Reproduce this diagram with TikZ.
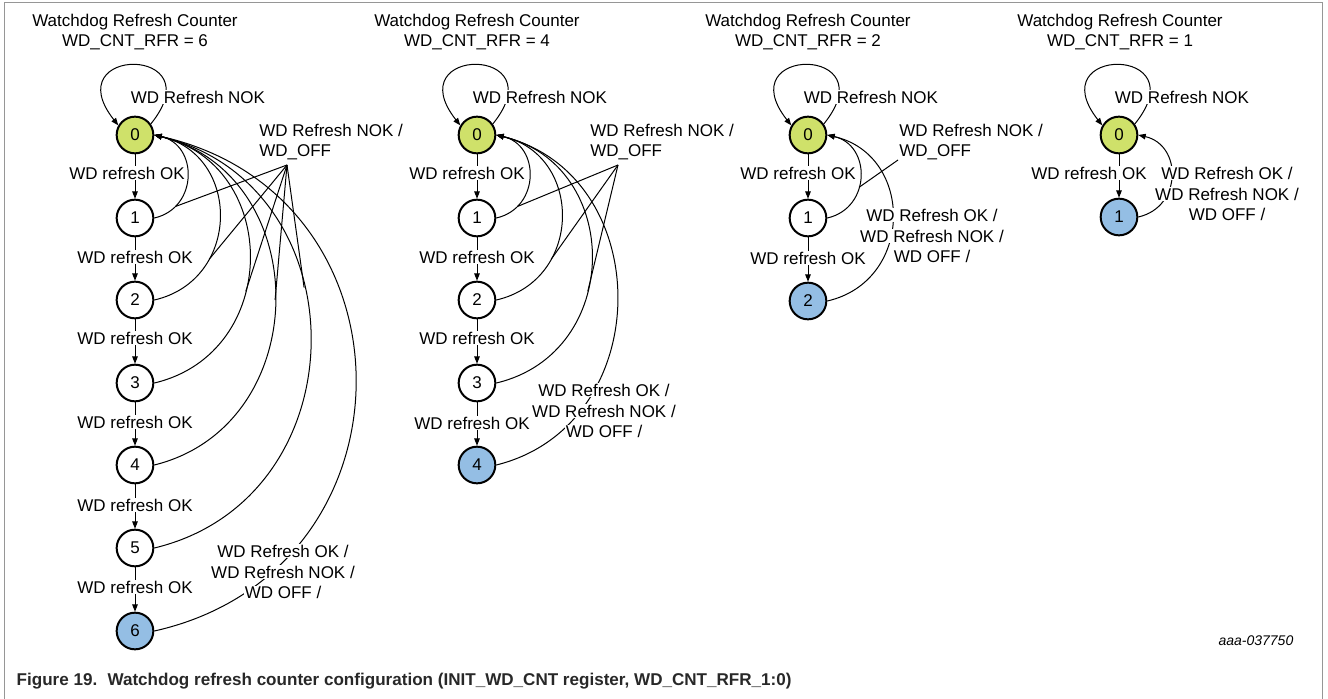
\documentclass[tikz,border=0pt]{standalone}
\usepackage{fontspec}
\setmainfont{Liberation Sans}
\usetikzlibrary{arrows.meta}
\definecolor{startgreen}{RGB}{207,225,106}
\definecolor{endblue}{RGB}{148,190,228}
\definecolor{capgray}{RGB}{40,40,40}
\definecolor{framegray}{RGB}{150,150,150}
\newcommand\wln[1]{{\setlength{\fboxsep}{0.6pt}\colorbox{white}{#1}}}
\begin{document}
\begin{tikzpicture}[x=0.75pt,y=-0.75pt,
  every node/.style={font=\fontsize{12.75}{15.5}\selectfont},
  state/.style={circle,draw,line width=1.5pt,minimum size=27.5pt,inner sep=0pt},
  s0/.style={state,fill=startgreen},
  sm/.style={state,fill=white},
  sf/.style={state,fill=endblue},
  conn/.style={line width=0.75pt,-{Triangle[length=5.5pt,width=4.2pt]}},
  fanline/.style={line width=0.75pt},
  lbl/.style={fill=white,inner sep=0.6pt},
  title/.style={align=center},
  fanlbl/.style={anchor=west,align=left,inner sep=0pt},
  endlbl/.style={align=center,inner sep=0pt}
]
\useasboundingbox (0,0) rectangle (1328,699);
\draw[framegray,line width=0.75pt] (4,700) -- (4,3) -- (1322,3) -- (1322,700);

% ================= Column 1 =================
\node[title] (t1) at (135,32) {Watchdog Refresh Counter\\WD\_CNT\_RFR = 6};
\node[s0] (a0) at (135,135) {0};
\node[sm] (a1) at (135,218) {1};
\node[sm] (a2) at (135,300) {2};
\node[sm] (a3) at (135,383) {3};
\node[sm] (a4) at (135,465) {4};
\node[sm] (a5) at (135,548) {5};
\node[sf] (a6) at (135,631) {6};
\draw[conn] (a0) -- (a1);
\draw[conn] (a1) -- (a2);
\draw[conn] (a2) -- (a3);
\draw[conn] (a3) -- (a4);
\draw[conn] (a4) -- (a5);
\draw[conn] (a5) -- (a6);
\draw[conn] (a0.35) .. controls +(64,-79) and +(-63,-80) .. (a0.150);
\draw[conn] (a1.east) .. controls +(44,-10) and +(44,10) .. (a0.east) coordinate[pos=0.2] (fa1);
\draw[conn] (a2.east) .. controls +(87,-20) and +(87,20) .. (a0.east) coordinate[pos=0.3] (fa2);
\draw[conn] (a3.east) .. controls +(127,-30) and +(127,30) .. (a0.east) coordinate[pos=0.4] (fa3);
\draw[conn] (a4.east) .. controls +(161,-40) and +(161,40) .. (a0.east) coordinate[pos=0.5] (fa4);
\draw[conn] (a5.east) .. controls +(208,-50) and +(208,50) .. (a0.east) coordinate[pos=0.6] (fa5);
\draw[conn] (a6.east) .. controls +(268,-60) and +(268,60) .. (a0.east);
\coordinate (fpa) at (287,165);
\draw[fanline] (fpa) -- (fa1);
\draw[fanline] (fpa) -- (fa2);
\draw[fanline] (fpa) -- (fa3);
\draw[fanline] (fpa) -- (fa4);
\draw[fanline] (fpa) -- (fa5);
\node[lbl] (la01) at (127,173) {WD refresh OK};
\node[lbl] (la12) at (135,257) {WD refresh OK};
\node[lbl] (la23) at (135,338) {WD refresh OK};
\node[lbl] (la34) at (135,422) {WD refresh OK};
\node[lbl] (la45) at (135,505) {WD refresh OK};
\node[lbl] (la56) at (135,587) {WD refresh OK};
\node[lbl] (lan) at (198,97) {WD Refresh NOK};
\node[fanlbl] (laf) at (259,142) {WD Refresh NOK /\\WD\_OFF};
\node[endlbl] (lae) at (283,572) {\wln{WD Refresh OK /}\\\wln{WD Refresh NOK /}\\\wln{WD OFF /}};

% ================= Column 2 =================
\node[title] (t2) at (477,32) {Watchdog Refresh Counter\\WD\_CNT\_RFR = 4};
\node[s0] (b0) at (477,135) {0};
\node[sm] (b1) at (477,218) {1};
\node[sm] (b2) at (477,300) {2};
\node[sm] (b3) at (477,383) {3};
\node[sf] (b4) at (477,465) {4};
\draw[conn] (b0) -- (b1);
\draw[conn] (b1) -- (b2);
\draw[conn] (b2) -- (b3);
\draw[conn] (b3) -- (b4);
\draw[conn] (b0.35) .. controls +(64,-79) and +(-63,-80) .. (b0.150);
\draw[conn] (b1.east) .. controls +(44,-10) and +(44,10) .. (b0.east) coordinate[pos=0.2] (fb1);
\draw[conn] (b2.east) .. controls +(87,-20) and +(87,20) .. (b0.east) coordinate[pos=0.3] (fb2);
\draw[conn] (b3.east) .. controls +(127,-30) and +(127,30) .. (b0.east) coordinate[pos=0.4] (fb3);
\draw[conn] (b4.east) .. controls +(161,-40) and +(161,40) .. (b0.east);
\coordinate (fpb) at (618,165);
\draw[fanline] (fpb) -- (fb1);
\draw[fanline] (fpb) -- (fb2);
\draw[fanline] (fpb) -- (fb3);
\node[lbl] (lb01) at (467,173) {WD refresh OK};
\node[lbl] (lb12) at (477,257) {WD refresh OK};
\node[lbl] (lb23) at (477,338) {WD refresh OK};
\node[lbl] (lb34) at (472,423) {WD refresh OK};
\node[lbl] (lbn) at (540,97) {WD Refresh NOK};
\node[fanlbl] (lbf) at (590,142) {WD Refresh NOK /\\WD\_OFF};
\node[endlbl] (lbe) at (604,411) {\wln{WD Refresh OK /}\\\wln{WD Refresh NOK /}\\\wln{WD OFF /}};

% ================= Column 3 =================
\node[title] (t3) at (808,32) {Watchdog Refresh Counter\\WD\_CNT\_RFR = 2};
\node[s0] (c0) at (808,135) {0};
\node[sm] (c1) at (808,218) {1};
\node[sf] (c2) at (808,301) {2};
\draw[conn] (c0) -- (c1);
\draw[conn] (c1) -- (c2);
\draw[conn] (c0.35) .. controls +(64,-79) and +(-63,-80) .. (c0.150);
\draw[conn] (c1.east) .. controls +(44,-10) and +(44,10) .. (c0.east) coordinate[pos=0.4] (fc1);
\draw[conn] (c2.east) .. controls +(87,-20) and +(87,20) .. (c0.east);
\coordinate (fpc) at (898,160);
\draw[fanline] (fpc) -- (fc1);
\node[lbl] (lc01) at (798,173) {WD refresh OK};
\node[lbl] (lc12) at (808,258) {WD refresh OK};
\node[lbl] (lcn) at (871,97) {WD Refresh NOK};
\node[fanlbl] (lcf) at (899,142) {WD Refresh NOK /\\WD\_OFF};
\node[endlbl] (lce) at (932,236) {\wln{WD Refresh OK /}\\\wln{WD Refresh NOK /}\\\wln{WD OFF /}};

% ================= Column 4 =================
\node[title] (t4) at (1120,32) {Watchdog Refresh Counter\\WD\_CNT\_RFR = 1};
\node[s0] (d0) at (1119,135) {0};
\node[sf] (d1) at (1119,217) {1};
\draw[conn] (d0) -- (d1);
\draw[conn] (d0.35) .. controls +(64,-79) and +(-63,-80) .. (d0.150);
\draw[conn] (d1.east) .. controls +(44,-10) and +(44,10) .. (d0.east);
\node[lbl] (ld01) at (1089,173) {WD refresh OK};
\node[lbl] (ldn) at (1182,97) {WD Refresh NOK};
\node[endlbl] (lde) at (1227,194) {\wln{WD Refresh OK /}\\\wln{WD Refresh NOK /}\\\wln{WD OFF /}};

% ================= Caption / code =================
\node[anchor=east,font=\fontsize{10.5}{12}\selectfont\itshape] (code) at (1298,641) {aaa-037750};
\node[anchor=west,text=capgray,font=\fontsize{12.8}{16}\selectfont\bfseries] (cap) at (12,681) {Figure 19.\hspace{0.6em}Watchdog refresh counter configuration (INIT\_WD\_CNT register, WD\_CNT\_RFR\_1:0)};
\end{tikzpicture}
\end{document}
